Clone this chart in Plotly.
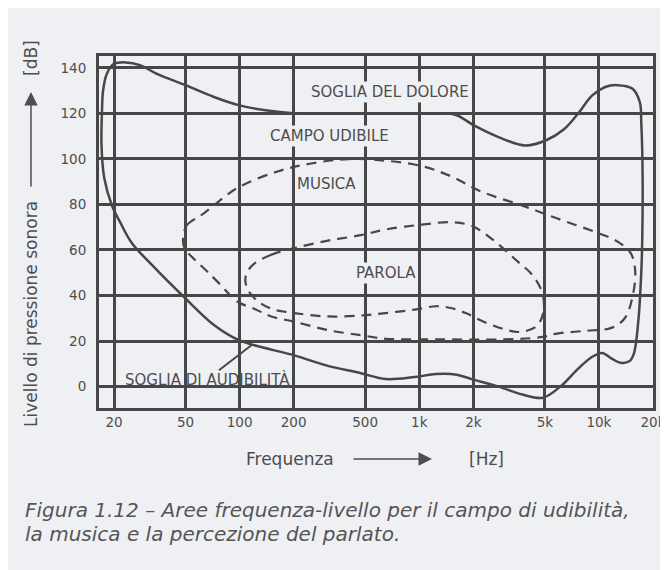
import numpy as np
import plotly.graph_objects as go

# ---------------- data ----------------
freq_ticks = [20, 50, 100, 200, 500, 1000, 2000, 5000, 10000, 20000]
freq_tick_labels = ['20', '50', '100', '200', '500', '1k', '2k', '5k', '10k', '20k']
db_ticks = [0, 20, 40, 60, 80, 100, 120, 140]

# closed contour of the hearing field (pain threshold on top, audibility threshold at bottom)
hearing_f = [25, 21.7, 19.5, 17.65, 17.04, 17.13, 17.4, 18.2, 19.8, 23.2,
             27.9, 34.4, 50, 72, 100, 150, 200, 500, 1000, 1390,
             1617, 2030, 2760, 3900, 5090, 6390, 7650, 9180, 10840, 12640,
             15330, 16880, 17210, 17510, 17410, 17210, 16560, 15640, 14760, 13150,
             11720, 10430, 9180, 7650, 6100, 4870, 3750, 2760, 1955, 1617,
             1240, 942, 650, 473, 310, 202, 100, 72, 50, 32.8, 25]
hearing_db = [63.3, 72, 79.4, 91.6, 106, 120, 130.2, 137.2, 141.6, 142.4,
              141.2, 137.5, 132.4, 127.2, 123.5, 121, 120.1, 120, 120, 120,
              119.2, 114.6, 109.6, 105.9, 108.2, 113, 119.9, 127.9, 131.6, 132.4,
              130.9, 125, 115.8, 91.6, 63.3, 50.3, 28.5, 14.4, 11.1, 10.5,
              12.4, 14.8, 13.1, 7.8, 0, -4.9, -3.5, 0, 3.3, 5.2,
              5.5, 4.2, 3.3, 5.9, 9.1, 13.7, 20.3, 27.1, 38.7, 53.1, 63.3]

# music area (dashed)
music_f = [48.8, 51, 63.8, 96.4, 166, 250, 400, 593, 1026, 1500,
           2220, 3750, 5830, 10000, 12640, 15030, 15930, 15330, 13930, 11720,
           8380, 5830, 4870, 2885, 1240, 650, 473, 310, 202, 150,
           123, 96.4, 78.4, 66.5, 58.7, 51.9, 48.8, 48.8]
music_db = [67, 71, 76.3, 87.1, 94.7, 98, 99.9, 99.5, 96.9, 92.4,
            85.6, 79.5, 73.9, 67.3, 63.8, 58.6, 50.3, 39, 30, 25.8,
            24.5, 23.3, 21.8, 20.7, 20.8, 21.0, 22.6, 24.8, 28.5, 30.8,
            33.9, 37.5, 44.7, 50.3, 54.4, 58.6, 62, 67]

# speech area (dashed)
speech_f = [202, 150, 117, 108, 110, 123, 150, 202, 310, 473,
            650, 942, 1240, 1500, 1812, 2220, 2885, 3590, 4460, 4870,
            4870, 4270, 3430, 2530, 1955, 1500, 1026, 650, 473, 310, 202]
speech_db = [60.8, 57.9, 53.1, 48.2, 43.3, 38.3, 34.2, 32.3, 30.8, 31.2,
             32.3, 33.8, 35.3, 34.5, 32.3, 28.9, 25.5, 24, 26.3, 31.6,
             40.5, 48.9, 55.8, 64.9, 70.6, 72.2, 71.1, 69, 66.5, 64.1, 60.8]

# leader line for the audibility threshold label
leader_f = [76.8, 116.8]
leader_db = [7.2, 18.3]

# ---------------- style ----------------
BG = '#eff0f4'
INK = '#474747'
TXT = '#4d4d4d'
FONT = 'DejaVu Sans'

fig = go.Figure()
fig.add_trace(go.Scatter(x=hearing_f, y=hearing_db, mode='lines',
                         line=dict(color=INK, width=2.5, shape='spline', smoothing=1.0),
                         hoverinfo='skip', showlegend=False))
fig.add_trace(go.Scatter(x=music_f, y=music_db, mode='lines',
                         line=dict(color=INK, width=2.2, shape='spline', smoothing=1.0, dash='10px,7px'),
                         hoverinfo='skip', showlegend=False))
fig.add_trace(go.Scatter(x=speech_f, y=speech_db, mode='lines',
                         line=dict(color=INK, width=2.2, shape='spline', smoothing=1.0, dash='10px,7px'),
                         hoverinfo='skip', showlegend=False))
fig.add_trace(go.Scatter(x=leader_f, y=leader_db, mode='lines',
                         line=dict(color=INK, width=2),
                         hoverinfo='skip', showlegend=False))


def lab(text, f, db, bg=True):
    fig.add_annotation(x=np.log10(f), y=db, xref='x', yref='y', text=text, showarrow=False,
                       xanchor='center', yanchor='middle',
                       font=dict(family=FONT, size=15, color=TXT),
                       bgcolor=BG if bg else None, borderpad=1)


lab('SOGLIA DEL DOLORE', 683, 129.4)
lab('CAMPO UDIBILE', 318, 110)
lab('MUSICA', 303, 89.2)
lab('PAROLA', 653, 49.8)
lab('SOGLIA DI AUDIBILITÀ', 66.7, 3.3, bg=False)

# page offset of the figure (browser body margin)
OFF = 8
W, H = 668, 570
L, T = 91, 48
pw, ph = 554, 352
R, B = W - L - pw, H - T - ph


def px(x):
    return (x - OFF - L) / pw


def py(y):
    return (T + ph - (y - OFF)) / ph


def txt(x, y, s, size=17, angle=0, **kw):
    fig.add_annotation(x=px(x), y=py(y), xref='paper', yref='paper', text=s, showarrow=False,
                       textangle=angle, xanchor=kw.pop('xanchor', 'center'), yanchor='middle',
                       font=dict(family=FONT, size=size, color=kw.pop('color', TXT)), **kw)


# axis titles with arrows
txt(290, 459, 'Frequenza')
fig.add_annotation(x=px(432), y=py(459), xref='paper', yref='paper', ax=-80, ay=0, text='',
                   showarrow=True, arrowhead=2, arrowsize=1.8, arrowwidth=1.5, arrowcolor=TXT)
txt(486, 459, '[Hz]')
txt(31, 314, 'Livello di pressione sonora', angle=-90)
fig.add_annotation(x=px(31), y=py(92), xref='paper', yref='paper', ax=0, ay=96, text='',
                   showarrow=True, arrowhead=2, arrowsize=1.8, arrowwidth=1.5, arrowcolor=TXT)
txt(31, 58, '[dB]', angle=-90)

# caption
txt(23, 510, '<i>Figura 1.12 – Aree frequenza-livello per il campo di udibilità,</i>',
    size=20, xanchor='left', color='#555555')
txt(23, 534, '<i>la musica e la percezione del parlato.</i>',
    size=20, xanchor='left', color='#555555')

axis_common = dict(showgrid=True, gridcolor=INK, gridwidth=2.5, showline=True, mirror=True,
                   linecolor=INK, linewidth=3, zeroline=False,
                   tickfont=dict(family=FONT, size=13.5, color=TXT))

fig.update_xaxes(type='log', range=[np.log10(16.5), np.log10(20000)],
                 tickvals=freq_ticks, ticktext=freq_tick_labels,
                 ticks='', ticklen=0, ticklabelstandoff=0, **axis_common)
fig.update_yaxes(range=[-9.4, 145.2], tickvals=db_ticks, ticks='', ticklabelstandoff=7, **axis_common)

fig.update_layout(width=W, height=H, margin=dict(l=L, r=R, t=T, b=B, autoexpand=False),
                  paper_bgcolor=BG, plot_bgcolor=BG, showlegend=False)

fig.write_html('out.html')
